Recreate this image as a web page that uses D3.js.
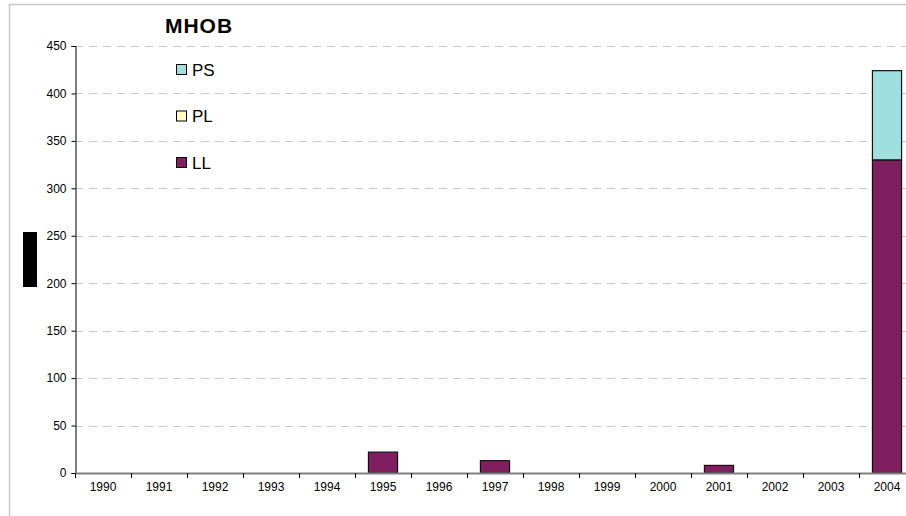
<!DOCTYPE html>
<html>
<head>
<meta charset="utf-8">
<script src="https://d3js.org/d3.v7.min.js"></script>
<style>
html,body{margin:0;padding:0;background:#fff;}
svg{display:block;font-family:Arial,"Liberation Sans",sans-serif;}
</style>
</head>
<body>
<svg id="chart" width="906" height="516"></svg>
<script>
const years = ["1990","1991","1992","1993","1994","1995","1996","1997","1998","1999","2000","2001","2002","2003","2004"];
const LL = [0,0,0,0,0,22,0,13,0,0,0,8,0,0,330];
const PL = [0,0,0,0,0,0,0,0,0,0,0,0,0,0,0];
const PS = [0,0,0,0,0,0,0,0,0,0,0,0,0,0,94];
const seriesNames = ["LL","PL","PS"];
const seriesColors = {LL:"#7f1f5f", PL:"#ffffc4", PS:"#a0dfdf"};
const yTicks = [0,50,100,150,200,250,300,350,400,450];
const title = "MHOB";

const svg = d3.select("#chart");
const W = 906, H = 516;

// outer frame
svg.append("rect").attr("x",9.5).attr("y",4.5).attr("width",W+20).attr("height",H+20)
  .attr("fill","#fff").attr("stroke","#c8c8c8").attr("stroke-width",1.5);

const x = d3.scaleBand().domain(years).range([75,915]).paddingInner(0.48).paddingOuter(0.24);
const xb = d3.scaleBand().domain(years).range([75,915]).padding(0);
const y = d3.scaleLinear().domain([0,450]).range([473,46]);

// gridlines
svg.append("g").selectAll("line").data(yTicks.filter(d=>d>0)).join("line")
  .attr("x1",75).attr("x2",W).attr("y1",d=>Math.round(y(d))+0.5).attr("y2",d=>Math.round(y(d))+0.5)
  .attr("stroke","#c8c8c8").attr("stroke-dasharray","8,6");

// stacked data
const table = years.map((yr,i)=>({year:yr, LL:LL[i], PL:PL[i], PS:PS[i]}));
const stack = d3.stack().keys(seriesNames)(table);

svg.append("g").selectAll("g").data(stack).join("g")
  .attr("fill",d=>seriesColors[d.key])
  .selectAll("rect").data(d=>d.filter(p=>p[1]-p[0]>0)).join("rect")
  .attr("x",d=>x(d.data.year))
  .attr("width",x.bandwidth())
  .attr("y",d=>y(d[1]))
  .attr("height",d=>y(d[0])-y(d[1]))
  .attr("stroke","#111").attr("stroke-width",1.2);

// y axis
const yAxis = d3.axisLeft(y).tickValues(yTicks).tickSize(4).tickPadding(5);
const gy = svg.append("g").attr("transform","translate(75.5,0)").call(yAxis);
gy.select(".domain").attr("stroke","#000");
gy.selectAll(".tick line").attr("stroke","#000");
gy.selectAll("text").attr("font-size","12px").attr("fill","#000").attr("font-family","Arial,'Liberation Sans',sans-serif");

// x axis line
svg.append("line").attr("x1",75).attr("x2",W).attr("y1",473.5).attr("y2",473.5)
  .attr("stroke","#808080").attr("stroke-width",2);
// x ticks at category boundaries
svg.append("g").selectAll("line").data(years).join("line")
  .attr("x1",d=>Math.round(xb(d))+0.5).attr("x2",d=>Math.round(xb(d))+0.5)
  .attr("y1",473).attr("y2",478).attr("stroke","#000");
// x labels
svg.append("g").selectAll("text").data(years).join("text")
  .attr("x",d=>xb(d)+xb.bandwidth()/2).attr("y",491)
  .attr("text-anchor","middle").attr("font-size","12px").attr("fill","#000")
  .text(d=>d);

// title
svg.append("text").attr("x",199).attr("y",33).attr("text-anchor","middle")
  .attr("font-size","21px").attr("font-weight","bold").attr("letter-spacing","1px").attr("fill","#000")
  .text(title);

// legend
const legendOrder = ["PS","PL","LL"];
const lg = svg.append("g").selectAll("g").data(legendOrder).join("g")
  .attr("transform",(d,i)=>`translate(176,${69+i*46.5})`);
lg.append("rect").attr("x",0.5).attr("y",-4.5).attr("width",10).attr("height",10)
  .attr("fill",d=>seriesColors[d]).attr("stroke","#000").attr("stroke-width",1);
lg.append("text").attr("x",16).attr("y",6.5).attr("font-size","17px").attr("fill","#000").text(d=>d);

// y axis title placeholder block
svg.append("rect").attr("x",23).attr("y",232).attr("width",14).attr("height",55).attr("fill","#000");
</script>
</body>
</html>
